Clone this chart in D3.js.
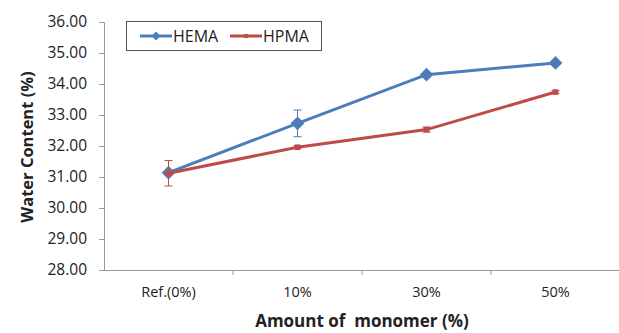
<!DOCTYPE html>
<html>
<head>
<meta charset="utf-8">
<script src="https://cdn.jsdelivr.net/npm/d3@7"></script>
<style>
  body { margin: 0; background: #fff; }
  text { font-family: "Open Sans", "Noto Sans", sans-serif; }
</style>
</head>
<body>
<div id="chart"></div>
<script>
var width = 619, height = 333;

var categories = ["Ref.(0%)", "10%", "30%", "50%"];
var hema = [31.14, 32.73, 34.30, 34.68];
var hema_err = [0.05, 0.43, 0.05, 0.05];
var hpma = [31.12, 31.96, 32.53, 33.74];
var hpma_err = [0.41, 0.04, 0.08, 0.04];
var y_ticks = [28, 29, 30, 31, 32, 33, 34, 35, 36];

var series = [
    {name: "HEMA", values: hema, err: hema_err, color: "#4a7ebb", marker: "diamond"},
    {name: "HPMA", values: hpma, err: hpma_err, color: "#be4b48", marker: "square"}
];

var margin = {left: 104, right: 0, top: 22, bottom: 63};

var svg = d3.select("#chart").append("svg").attr("width", width).attr("height", height);

var x = d3.scaleBand().domain(categories).range([margin.left, 620]);
var y = d3.scaleLinear().domain([28, 36]).range([height - margin.bottom, margin.top]);

// y axis
var yAxis = svg.append("g")
    .attr("transform", "translate(" + margin.left + ",0)")
    .call(d3.axisLeft(y).tickValues(y_ticks).tickFormat(d3.format(".2f")).tickSize(5).tickPadding(12));
yAxis.select(".domain").attr("stroke", "#999");
yAxis.selectAll(".tick line").attr("stroke", "#999");
yAxis.selectAll("text").attr("font-size", 15.5).attr("fill", "#222");

// x axis
var xAxis = svg.append("g")
    .attr("transform", "translate(0," + y(28) + ")")
    .call(d3.axisBottom(x).tickSize(0).tickPadding(17));
xAxis.select(".domain").attr("stroke", "#999");
xAxis.selectAll("text").attr("font-size", 14.5).attr("fill", "#222");
// tick marks between categories
xAxis.selectAll(".sep")
    .data(categories.slice(1))
    .enter().append("line")
    .attr("x1", function(d){ return x(d); })
    .attr("x2", function(d){ return x(d); })
    .attr("y1", 0).attr("y2", 5)
    .attr("stroke", "#999");

var line = d3.line()
    .x(function(d, i){ return x(categories[i]) + x.bandwidth() / 2; })
    .y(function(d){ return y(d); });

series.forEach(function(s){
    var g = svg.append("g");

    // error bars
    s.values.forEach(function(v, i){
        var cx = x(categories[i]) + x.bandwidth() / 2;
        var e = s.err[i];
        g.append("line").attr("x1", cx).attr("x2", cx)
            .attr("y1", y(v - e)).attr("y2", y(v + e))
            .attr("stroke", s.color).attr("stroke-width", 1);
        [v - e, v + e].forEach(function(t){
            g.append("line").attr("x1", cx - 4).attr("x2", cx + 4)
                .attr("y1", y(t)).attr("y2", y(t))
                .attr("stroke", s.color).attr("stroke-width", 1);
        });
    });

    g.append("path")
        .attr("d", line(s.values))
        .attr("fill", "none")
        .attr("stroke", s.color)
        .attr("stroke-width", 3);

    var sym = s.marker == "diamond"
        ? d3.symbol().type(d3.symbolDiamond2).size(120)
        : d3.symbol().type(d3.symbolSquare).size(32);

    g.selectAll(".pt")
        .data(s.values)
        .enter().append("path")
        .attr("d", sym)
        .attr("transform", function(d, i){
            return "translate(" + (x(categories[i]) + x.bandwidth() / 2) + "," + y(d) + ")";
        })
        .attr("fill", s.color);
});

// legend
var legend = svg.append("g");
legend.append("rect")
    .attr("x", 126.5).attr("y", 21.5).attr("width", 195).attr("height", 29)
    .attr("fill", "#fff").attr("stroke", "#555").attr("stroke-width", 1);

var legendX = [140, 230];
series.forEach(function(s, i){
    var lx = legendX[i];
    legend.append("line")
        .attr("x1", lx).attr("x2", lx + 32)
        .attr("y1", 36).attr("y2", 36)
        .attr("stroke", s.color).attr("stroke-width", 3);
    var sym = s.marker == "diamond"
        ? d3.symbol().type(d3.symbolDiamond2).size(50)
        : d3.symbol().type(d3.symbolSquare).size(16);
    legend.append("path")
        .attr("d", sym)
        .attr("transform", "translate(" + (lx + 16) + ",36)")
        .attr("fill", s.color);
    legend.append("text")
        .attr("x", lx + 33).attr("y", 42)
        .attr("font-size", 16).attr("fill", "#222")
        .text(s.name);
});

// axis titles
svg.append("text")
    .attr("transform", "translate(33,147) rotate(-90)")
    .attr("text-anchor", "middle")
    .attr("font-size", 16.5).attr("font-weight", "bold").attr("fill", "#222")
    .text("Water Content (%)");

svg.append("text")
    .attr("x", 362).attr("y", 327)
    .attr("text-anchor", "middle")
    .attr("font-size", 17).attr("font-weight", "bold").attr("fill", "#222")
    .style("white-space", "pre")
    .text("Amount of  monomer (%)");
</script>
</body>
</html>
